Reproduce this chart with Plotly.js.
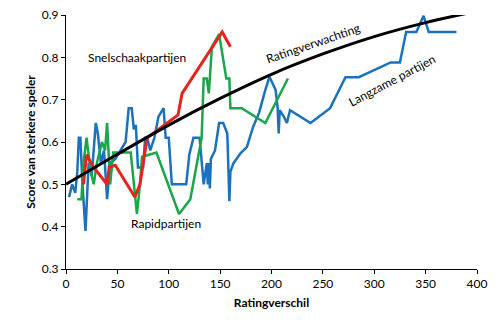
<!DOCTYPE html>
<html><head><meta charset="utf-8">
<script src="https://cdn.plot.ly/plotly-3.0.1.min.js"></script>
<style>html,body{margin:0;padding:0;background:#fff}#c{width:500px;height:330px}</style>
</head><body><div id="c"></div>
<script>
const expX = [0, 50, 100, 150, 200, 250, 300, 350, 400];
const expY = [0.50, 0.571, 0.640, 0.703, 0.760, 0.808, 0.849, 0.882, 0.909];

const slowX = [3,6,9,11,12.5,14,16,19,22,25,29,31,34,37,40,43,48,53,58,61,64,66,68,70,75,77,79,82,86,90,95,97,100,103,106,111,117,120,124,126,130,134,137,138,139,140,141,143,145,149,153,157,159,160,163,170,176,182,188,194,198,204,206,207,208,212,215,218,238,257,272,285,316,325,331,341,348,353,380];
const slowY = [0.47,0.50,0.48,0.53,0.61,0.61,0.50,0.39,0.55,0.52,0.645,0.62,0.55,0.58,0.465,0.55,0.56,0.58,0.60,0.68,0.68,0.63,0.64,0.54,0.54,0.61,0.61,0.58,0.61,0.66,0.68,0.61,0.61,0.50,0.50,0.50,0.50,0.57,0.61,0.61,0.61,0.50,0.55,0.50,0.55,0.49,0.56,0.57,0.58,0.645,0.645,0.62,0.46,0.53,0.55,0.574,0.588,0.635,0.67,0.723,0.754,0.723,0.68,0.62,0.675,0.66,0.645,0.675,0.645,0.68,0.753,0.753,0.788,0.788,0.86,0.86,0.898,0.86,0.86];

const rapidX = [11,15,17,20,24,27,30,35,38,40,43,46,63,67,69,72,74,88,110,121,132,134,137,139,142,149,156,159,160,171,194,216];
const rapidY = [0.465,0.465,0.55,0.61,0.53,0.50,0.55,0.60,0.58,0.645,0.50,0.575,0.575,0.465,0.43,0.50,0.565,0.575,0.43,0.465,0.61,0.75,0.75,0.715,0.825,0.855,0.75,0.75,0.68,0.68,0.645,0.75];

const blitzX = [17,20,27,40,42,48,67,72,79,109,113,152,160];
const blitzY = [0.50,0.57,0.54,0.50,0.54,0.545,0.47,0.50,0.61,0.664,0.715,0.86,0.825];

const labels = ["Snelschaakpartijen","Rapidpartijen","Ratingverwachting","Langzame partijen"];
const labelX = [69, 97, 240, 317];
const labelY = [0.80, 0.408, 0.832, 0.745];
const labelAngle = [0, 0, -19, -28];

const font = "Lato, 'Open Sans', sans-serif";
const traces = [
  {x: slowX, y: slowY, mode:'lines', line:{color:'#1a72bd', width:2.5}},
  {x: rapidX, y: rapidY, mode:'lines', line:{color:'#1aa64a', width:2.5}},
  {x: blitzX, y: blitzY, mode:'lines', line:{color:'#e8231e', width:3}},
  {x: expX, y: expY, mode:'lines', line:{color:'#000', width:3, shape:'spline'}}
];
const annotations = labels.map((t,i)=>({x:labelX[i], y:labelY[i], text:t, showarrow:false, textangle:labelAngle[i], font:{family:font, size:12, color:'#000'}}));
const layout = {
  width:500, height:330, margin:{l:66, r:23, t:15, b:61},
  showlegend:false, paper_bgcolor:'#fff', plot_bgcolor:'#fff',
  font:{family:font, size:12, color:'#000'},
  xaxis:{range:[0,400], dtick:50, showgrid:false, zeroline:false, showline:true, linecolor:'#000', linewidth:1, ticks:'outside', ticklen:4, tickcolor:'#000',
    title:{text:'<b>Ratingverschil</b>', font:{size:12}, standoff:8}},
  yaxis:{range:[0.3,0.9], dtick:0.1, tickformat:'.1f', showgrid:false, zeroline:false, showline:true, linecolor:'#000', linewidth:1, ticks:'outside', ticklen:4, tickcolor:'#000',
    title:{text:'<b>Score van sterkere speler</b>', font:{size:12}, standoff:3}},
  annotations: annotations
};
Plotly.newPlot('c', traces, layout, {staticPlot:true});
</script></body></html>
